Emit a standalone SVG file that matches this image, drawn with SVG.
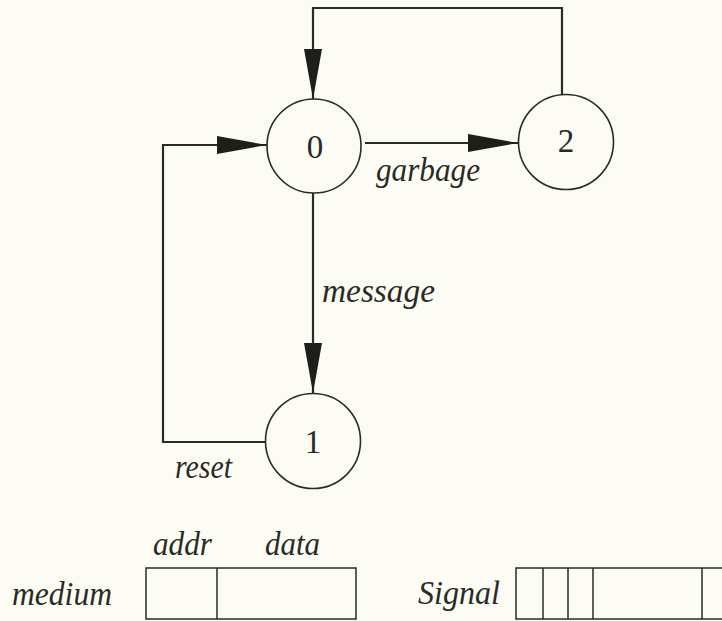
<svg xmlns="http://www.w3.org/2000/svg" width="722" height="621" viewBox="0 0 722 621">
  <style>
    .state { fill: none; stroke: #2a2a26; stroke-width: 1.6; }
    .num { font-family: "Liberation Serif", "Times New Roman", serif; font-size: 33px; fill: #2a2a26; text-anchor: middle; }
    .lbl { font-family: "Liberation Serif", "Times New Roman", serif; font-style: italic; font-size: 33px; fill: #2a2a26; }
    .edge { fill: none; stroke: #2a2a26; stroke-width: 2.2; }
    .cell { fill: none; stroke: #2a2a26; stroke-width: 1.5; }
  </style>
  <defs>
    <marker id="head" markerUnits="userSpaceOnUse" markerWidth="50" markerHeight="18" refX="50" refY="9" orient="auto">
      <path d="M0,0 L50,9 L0,18 z" fill="#1e1e1a"/>
    </marker>
  </defs>
  <rect width="722" height="621" fill="#fcfcf5"/>

  <g id="connectors">
    <!-- 2 back to 0 over the top -->
    <path class="edge" d="M562,94 V8 H313 V99" marker-end="url(#head)"/>
    <!-- 0 to 2 -->
    <path class="edge" d="M365,143 H518" marker-end="url(#head)"/>
    <!-- 0 to 1 -->
    <path class="edge" d="M313,193 V393" marker-end="url(#head)"/>
    <!-- 1 back to 0 round the left -->
    <path class="edge" d="M266,442 H163 V145 H267" marker-end="url(#head)"/>
    <text class="lbl" x="376" y="181" textLength="104" lengthAdjust="spacingAndGlyphs">garbage</text>
    <text class="lbl" x="322" y="302" textLength="113" lengthAdjust="spacingAndGlyphs">message</text>
    <text class="lbl" x="175" y="478" textLength="57" lengthAdjust="spacingAndGlyphs">reset</text>
  </g>

  <g id="state-0">
    <circle class="state" cx="314" cy="146" r="47"/>
    <text class="num" x="315" y="158">0</text>
  </g>
  <g id="state-2">
    <circle class="state" cx="566" cy="142" r="47.5"/>
    <text class="num" x="566" y="152">2</text>
  </g>
  <g id="state-1">
    <circle class="state" cx="313" cy="441" r="47.5"/>
    <text class="num" x="313" y="453">1</text>
  </g>

  <g id="medium">
    <text class="lbl" x="12" y="605" textLength="100" lengthAdjust="spacingAndGlyphs">medium</text>
    <text class="lbl" x="153" y="555" textLength="59" lengthAdjust="spacingAndGlyphs">addr</text>
    <text class="lbl" x="265" y="555" textLength="55" lengthAdjust="spacingAndGlyphs">data</text>
    <rect class="cell" x="146" y="568" width="210" height="51"/>
    <line class="cell" x1="217" y1="568" x2="217" y2="619"/>
  </g>

  <g id="signal">
    <text class="lbl" x="418" y="604" textLength="82" lengthAdjust="spacingAndGlyphs">Signal</text>
    <rect class="cell" x="516" y="568" width="220" height="51"/>
    <line class="cell" x1="543" y1="568" x2="543" y2="619"/>
    <line class="cell" x1="568" y1="568" x2="568" y2="619"/>
    <line class="cell" x1="593" y1="568" x2="593" y2="619"/>
    <line class="cell" x1="702" y1="568" x2="702" y2="619"/>
  </g>
</svg>
